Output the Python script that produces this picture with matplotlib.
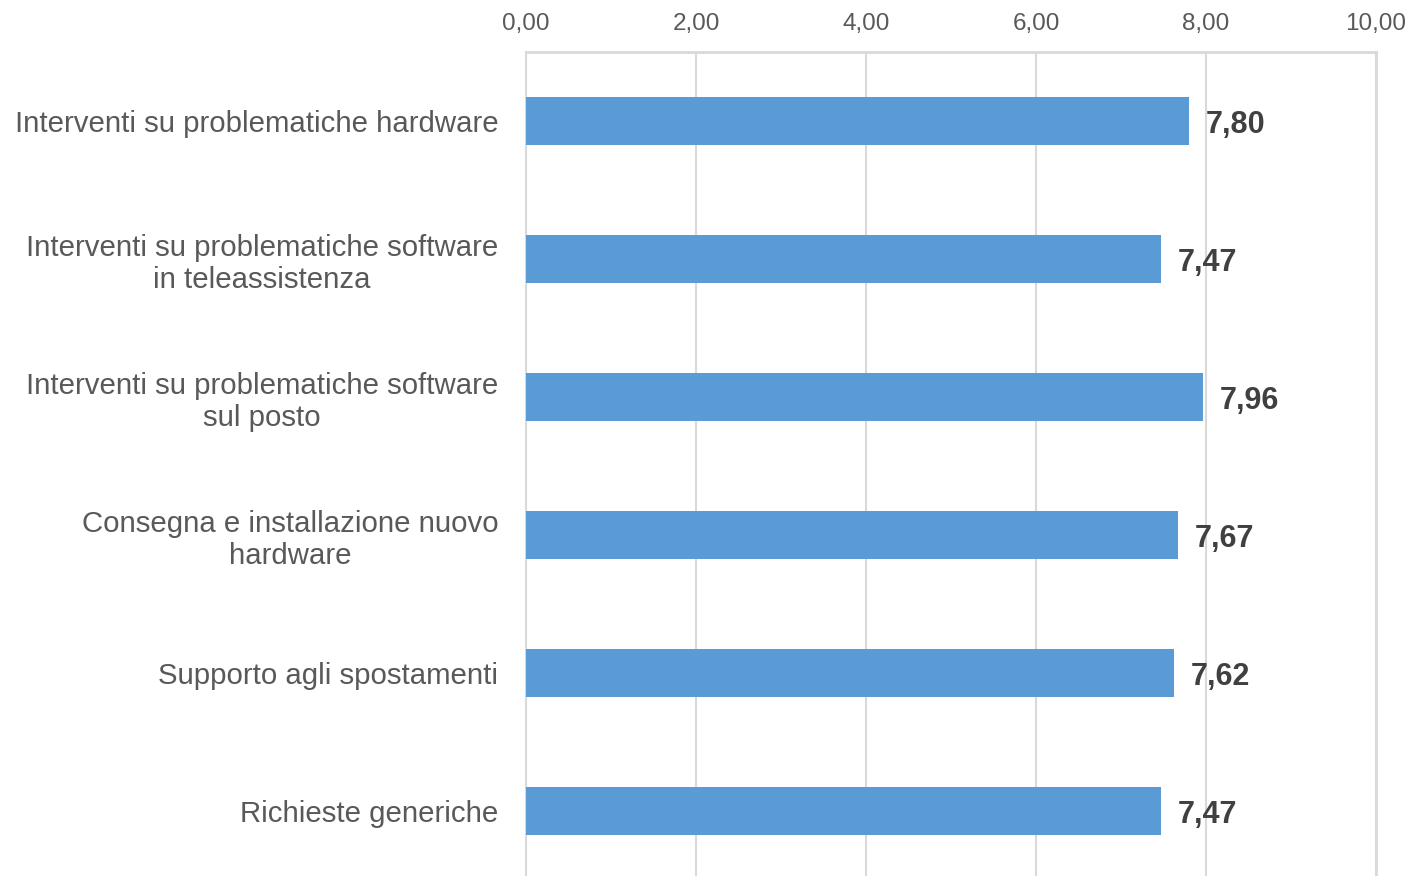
import matplotlib
matplotlib.use("Agg")
import matplotlib.pyplot as plt
from matplotlib.ticker import FuncFormatter

categories = [
    "Interventi su problematiche hardware",
    "Interventi su problematiche software\nin teleassistenza",
    "Interventi su problematiche software\nsul posto",
    "Consegna e installazione nuovo\nhardware",
    "Supporto agli spostamenti",
    "Richieste generiche",
]
values = [7.80, 7.47, 7.96, 7.67, 7.62, 7.47]
xticks = [0, 2, 4, 6, 8, 10]

plt.rcParams['font.family'] = ['Liberation Sans', 'DejaVu Sans']

W, H = 1408, 876
fig = plt.figure(figsize=(W / 100, H / 100), dpi=100)
left, right, top, bottom = 526, 1376, 52, 880
ax = fig.add_axes([left / W, 1 - bottom / H, (right - left) / W, (bottom - top) / H])

ypos = list(range(len(categories)))
ax.barh(ypos, values, height=0.35, color='#5b9bd5', zorder=3)
ax.set_ylim(len(categories) - 0.5, -0.5)
ax.set_xlim(0, 10)
ax.set_xticks(xticks)
ax.xaxis.set_major_formatter(FuncFormatter(lambda v, p: f"{v:.2f}".replace('.', ',')))
ax.xaxis.tick_top()
ax.tick_params(axis='x', length=0, pad=12, labelsize=17.5, labelcolor='#595959')
ax.set_yticks(ypos)
ax.set_yticklabels(categories)
ax.tick_params(axis='y', length=0, pad=20, labelsize=21.2, labelcolor='#595959')
for t in ax.get_yticklabels():
    t.set_multialignment('center')
    t.set_linespacing(1.18)

ax.grid(axis='x', color='#d9d9d9', linewidth=1.5, zorder=0)
for s in ['top', 'right']:
    ax.spines[s].set_color('#d9d9d9')
    ax.spines[s].set_linewidth(2)
ax.spines['left'].set_color('#d9d9d9')
ax.spines['left'].set_linewidth(1.5)
ax.spines['bottom'].set_visible(False)

for y, v in zip(ypos, values):
    ax.annotate(f"{v:.2f}".replace('.', ','), xy=(v, y), xytext=(12, -9),
                textcoords='offset points', ha='left', va='baseline',
                fontsize=22, fontweight='bold', color='#404040', zorder=4)

fig.savefig('out.png', dpi=100)
